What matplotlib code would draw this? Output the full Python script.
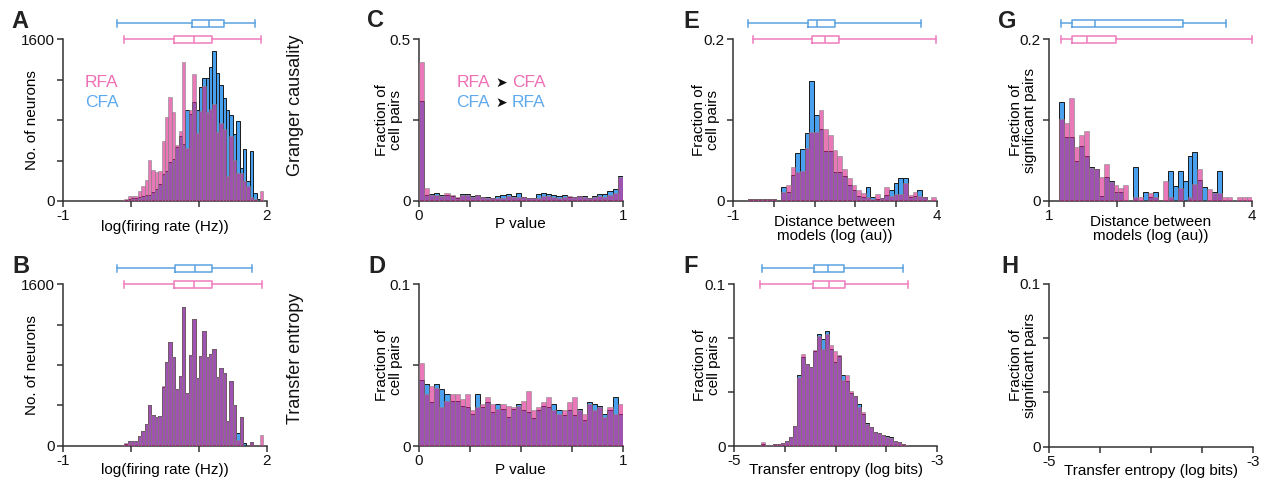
import numpy as np
import matplotlib
matplotlib.use("Agg")
import matplotlib.pyplot as plt

plt.rcParams['font.family'] = ['Liberation Sans', 'DejaVu Sans']

# ---- data ----
# A / B: firing rate histograms, bins of 0.05 starting at -0.15
fr_bin_start, fr_bin_width = -0.15, 0.05
a_rfa = [7, 23, 46, 50, 50, 99, 145, 212, 403, 304, 288, 294, 595, 833, 1025, 883, 559, 694,
         1379, 526, 899, 1256, 668, 893, 1137, 883, 906, 962, 684, 774, 717, 245, 645, 403,
         280, 281, 200, 150, 36, 20, 0, 102]
a_cfa = [5, 10, 20, 25, 30, 40, 50, 60, 60, 90, 120, 170, 270, 300, 390, 420, 530, 640, 560,
         900, 860, 980, 900, 1130, 1220, 1220, 1330, 1480, 1270, 1150, 1020, 900, 850, 660,
         790, 330, 510, 200, 490, 80, 20, 0]
b_rfa = [7, 23, 46, 50, 50, 99, 145, 212, 403, 304, 288, 294, 595, 833, 1025, 883, 559, 694,
         1379, 526, 899, 1256, 668, 893, 1137, 883, 906, 962, 684, 774, 717, 245, 645, 403,
         60, 281, 0, 0, 36, 0, 0, 102]
b_cfa = [7, 15, 46, 50, 50, 99, 145, 212, 403, 304, 288, 294, 580, 833, 1025, 883, 559, 694,
         1379, 526, 899, 1256, 668, 893, 1137, 883, 906, 962, 684, 774, 717, 245, 645, 403,
         122, 281, 30, 0, 36, 0, 0, 0]
a_box_cfa = [-0.203, 0.904, 1.154, 1.371, 1.828]
a_box_rfa = [-0.100, 0.628, 0.923, 1.194, 1.917]
b_box_cfa = [-0.203, 0.643, 0.938, 1.199, 1.789]
b_box_rfa = [-0.100, 0.628, 0.923, 1.194, 1.927]

# C / D: P value histograms, 40 bins on [0, 1]
p_bin_start, p_bin_width = 0.0, 0.025
c_rfa = [0.43, 0.041, 0.018, 0.020, 0.015, 0.025, 0.020, 0.012, 0.018, 0.018, 0.012, 0.018,
         0.012, 0.008, 0.008, 0.010, 0.010, 0.015, 0.012, 0.012, 0.012, 0.010, 0.008, 0.010,
         0.015, 0.015, 0.012, 0.010, 0.012, 0.015, 0.012, 0.015, 0.012, 0.008, 0.012, 0.015,
         0.012, 0.020, 0.025, 0.075]
c_cfa = [0.31, 0.020, 0.022, 0.025, 0.018, 0.020, 0.015, 0.010, 0.022, 0.022, 0.015, 0.020,
         0.012, 0.012, 0.010, 0.015, 0.018, 0.022, 0.015, 0.025, 0.012, 0.008, 0.010, 0.022,
         0.025, 0.022, 0.020, 0.015, 0.018, 0.012, 0.012, 0.015, 0.015, 0.010, 0.015, 0.021,
         0.021, 0.032, 0.036, 0.077]
d_rfa = [0.051, 0.032, 0.037, 0.036, 0.024, 0.028, 0.032, 0.032, 0.029, 0.032, 0.022, 0.024,
         0.026, 0.030, 0.026, 0.023, 0.026, 0.025, 0.024, 0.025, 0.028, 0.034, 0.022, 0.024,
         0.027, 0.030, 0.022, 0.020, 0.022, 0.027, 0.030, 0.022, 0.020, 0.026, 0.022, 0.024,
         0.018, 0.024, 0.020, 0.026]
d_cfa = [0.041, 0.038, 0.027, 0.038, 0.035, 0.032, 0.028, 0.028, 0.025, 0.024, 0.020, 0.032,
         0.024, 0.027, 0.021, 0.026, 0.023, 0.018, 0.023, 0.026, 0.022, 0.021, 0.017, 0.022,
         0.025, 0.024, 0.026, 0.022, 0.019, 0.022, 0.019, 0.023, 0.016, 0.027, 0.026, 0.025,
         0.020, 0.022, 0.030, 0.020]

# E: distance between models
e_bin_start, e_bin_width = -0.63, 0.1153
e_rfa = [0.002, 0.002, 0.002, 0.002, 0.002, 0.002, 0, 0.0115, 0.0198, 0.0424, 0.036, 0.037,
         0.065, 0.085, 0.085, 0.112, 0.089, 0.082, 0.063, 0.056, 0.040, 0.028, 0.020, 0.014,
         0.010, 0.005, 0.003, 0.0087, 0.004, 0.017, 0.006, 0.009, 0.009, 0.022, 0.0074, 0.011,
         0.006, 0.005, 0.001, 0.005]
e_cfa = [0.002, 0.002, 0.002, 0.002, 0.002, 0.002, 0, 0.0177, 0.0115, 0.032, 0.059, 0.064,
         0.084, 0.149, 0.106, 0.089, 0.062, 0.062, 0.036, 0.036, 0.031, 0.020, 0.014, 0.006,
         0.005, 0.017, 0.0045, 0.003, 0.004, 0.007, 0.014, 0.022, 0.029, 0.029, 0.005, 0.006,
         0.014, 0.005, 0.001, 0]
e_box_cfa = [-0.631, 0.836, 1.066, 1.500, 3.615]
e_box_rfa = [-0.525, 0.934, 1.246, 1.607, 3.984]

# F: transfer entropy
f_bin_start, f_bin_width = -4.738, 0.03934
f_rfa = [0.0025, 0.0006, 0.0008, 0.001, 0.0012, 0.0016, 0.0029, 0.0054, 0.0126, 0.0428, 0.0569,
         0.0510, 0.0486, 0.0593, 0.068, 0.060, 0.069, 0.0624, 0.059, 0.056, 0.041, 0.0437,
         0.0342, 0.031, 0.0243, 0.0212, 0.0136, 0.0115, 0.0089, 0.0082, 0.0068, 0.0054, 0.0050,
         0.0029, 0.0023, 0.0012, 0.0006]
f_cfa = [0.0012, 0.0006, 0.0008, 0.001, 0.0012, 0.0016, 0.0029, 0.0054, 0.0126, 0.0439, 0.0552,
         0.0505, 0.0486, 0.059, 0.069, 0.066, 0.0713, 0.060, 0.052, 0.0555, 0.0439, 0.040,
         0.0326, 0.031, 0.026, 0.0198, 0.0144, 0.0115, 0.0089, 0.0082, 0.0068, 0.0064, 0.0058,
         0.0029, 0.0023, 0.0012, 0.0006]
f_box_cfa = [-4.728, -4.213, -4.079, -3.915, -3.338]
f_box_rfa = [-4.741, -4.220, -4.069, -3.911, -3.285]

# G: distance between models, significant pairs
g_bin_start, g_bin_width = 1.148, 0.073
g_rfa = [0.102, 0.0968, 0.128, 0.0663, 0.0816, 0.087, 0.0404, 0.040, 0.030, 0.0457, 0.024,
         0.0198, 0.0157, 0.020, 0, 0.0045, 0.0045, 0, 0.0095, 0.0045, 0, 0.025, 0.0045, 0,
         0.0157, 0, 0.0045, 0.0206, 0.040, 0, 0.0152, 0.0095, 0.0095, 0.0045, 0.0045, 0,
         0.0045, 0.0045, 0.0045]
g_cfa = [0.1228, 0.0795, 0.0795, 0.0494, 0.068, 0.0556, 0.0424, 0.039, 0.006, 0.030, 0.025,
         0.0115, 0.0115, 0, 0, 0.0424, 0, 0.0115, 0.0045, 0.0115, 0, 0, 0.037, 0.0185, 0.037,
         0.025, 0.0556, 0.061, 0.026, 0.0177, 0, 0.0115, 0.037, 0, 0, 0, 0, 0, 0]
g_box_cfa = [1.168, 1.331, 1.676, 2.983, 3.615]
g_box_rfa = [1.168, 1.331, 1.557, 1.992, 3.995]

# ---- styling ----
W, H = 1265, 483
BLUE = '#48a0ee'
PINK = '#d91e89'
BLUE_LINE = '#5ba3e0'
PINK_LINE = '#f07cbf'
BLUE_TEXT = '#5fa9ee'
PINK_TEXT = '#ee6fb4'
AXC = '#333333'

fig = plt.figure(figsize=(W / 100, H / 100), dpi=100)


def rect(l, t, r, b):
    return [l / W, 1 - b / H, (r - l) / W, (b - t) / H]


def setup(ax, xlim, xticks, xlabels, ylim, yticks, ylabels, xlabel, ylabel, xl_y, yl_x):
    for s in ['top', 'right']:
        ax.spines[s].set_visible(False)
    for s in ['left', 'bottom']:
        ax.spines[s].set_color(AXC)
        ax.spines[s].set_linewidth(1.1)
    ax.set_xlim(xlim)
    ax.set_ylim(ylim)
    ax.set_xticks(xticks, xlabels)
    ax.set_yticks(yticks, ylabels)
    ax.tick_params(direction='out', length=4, width=1.1, color=AXC, labelsize=11,
                   pad=2, labelcolor='#111111')
    ax.set_xlabel(xlabel, fontsize=11, va='center', linespacing=1.0)
    ax.set_ylabel(ylabel, fontsize=11, va='center', linespacing=1.0)
    ax.xaxis.set_label_coords(0.5, xl_y)
    ax.yaxis.set_label_coords(yl_x, 0.5)
    ax.patch.set_visible(False)


def hist(ax, start, width, rfa, cfa):
    edges = start + width * np.arange(len(rfa))
    ax.bar(edges, cfa, width=width, align='edge', color=BLUE, edgecolor='#1a1a1a',
           linewidth=0.7, zorder=2)
    ax.bar(edges, rfa, width=width, align='edge', color=PINK, alpha=0.6,
           edgecolor='#8a8a8a', linewidth=0.7, zorder=3)


def boxes(ax, cfa_stats, rfa_stats, ytop):
    h = ytop * 7.5 / 161.5
    for stats, pos, col in [(rfa_stats, ytop, PINK_LINE),
                            (cfa_stats, ytop * (1 + 16 / 161.5), BLUE_LINE)]:
        st = dict(zip(['whislo', 'q1', 'med', 'q3', 'whishi'], stats))
        st['fliers'] = []
        props = dict(color=col, linewidth=1.1)
        art = ax.bxp([st], positions=[pos], widths=h, capwidths=h, orientation='horizontal',
                     showfliers=False, manage_ticks=False, boxprops=props,
                     whiskerprops=props, capprops=props, medianprops=props)
        for lines in art.values():
            for a in lines:
                a.set_clip_on(False)


fr_label = 'log(firing rate (Hz))'
dist_label = 'Distance between\nmodels (log (au))'
te_label = 'Transfer entropy (log bits)'
cell_label = 'Fraction of\ncell pairs'
sig_label = 'Fraction of\nsignificant pairs'

# A
ax = fig.add_axes(rect(63.3, 39.3, 266.7, 201))
hist(ax, fr_bin_start, fr_bin_width, a_rfa, a_cfa)
boxes(ax, a_box_cfa, a_box_rfa, 1600)
setup(ax, (-1, 2), [-1, 0, 1, 2], ['-1', '', '', '2'], (0, 1600),
      [0, 400, 800, 1200, 1600], ['0', '', '', '', '1600'], fr_label, 'No. of neurons',
      -0.159, -0.154)
ax.text(0.107, 0.705, 'RFA', color=PINK_TEXT, fontsize=12.5, transform=ax.transAxes,
        va='baseline')
ax.text(0.107, 0.581, 'CFA', color=BLUE_TEXT, fontsize=12.5, transform=ax.transAxes,
        va='baseline')

# B
ax = fig.add_axes(rect(63.3, 284.3, 266.7, 445.7))
hist(ax, fr_bin_start, fr_bin_width, b_rfa, b_cfa)
boxes(ax, b_box_cfa, b_box_rfa, 1600)
setup(ax, (-1, 2), [-1, 0, 1, 2], ['-1', '', '', '2'], (0, 1600),
      [0, 400, 800, 1200, 1600], ['0', '', '', '', '1600'], fr_label, 'No. of neurons',
      -0.15, -0.154)

# C
ax = fig.add_axes(rect(419, 39.3, 622.7, 201))
hist(ax, p_bin_start, p_bin_width, c_rfa, c_cfa)
setup(ax, (0, 1), [0, 0.25, 0.5, 0.75, 1], ['0', '', '', '', '1'], (0, 0.5),
      [0, 0.25, 0.5], ['0', '', '0.5'], 'P value', cell_label, -0.142, -0.145)
for yb, left, right, col in [(0.703, 'RFA', 'CFA', PINK_TEXT), (0.579, 'CFA', 'RFA', BLUE_TEXT)]:
    ax.text(0.349, yb, left, color=col, fontsize=12.5, ha='right', va='baseline',
            transform=ax.transAxes)
    ax.text(0.406, yb, '\u27a4', color='#111111', fontsize=10, ha='center', va='baseline',
            transform=ax.transAxes)
    ax.text(0.455, yb, right, color=col, fontsize=12.5, ha='left', va='baseline',
            transform=ax.transAxes)

# D
ax = fig.add_axes(rect(419, 284, 622.7, 446))
hist(ax, p_bin_start, p_bin_width, d_rfa, d_cfa)
setup(ax, (0, 1), [0, 0.25, 0.5, 0.75, 1], ['0', '', '', '', '1'], (0, 0.1),
      [0, 0.05, 0.1], ['0', '', '0.1'], 'P value', cell_label, -0.148, -0.145)

# E
ax = fig.add_axes(rect(733.3, 39.3, 936.7, 201))
hist(ax, e_bin_start, e_bin_width, e_rfa, e_cfa)
boxes(ax, e_box_cfa, e_box_rfa, 0.2)
setup(ax, (-1, 4), [-1, 0, 1, 2, 3, 4], ['-1', '', '', '', '', '4'], (0, 0.2),
      [0, 0.1, 0.2], ['0', '', '0.2'], dist_label, cell_label, -0.173, -0.132)

# F
ax = fig.add_axes(rect(734, 284.3, 937.3, 446))
hist(ax, f_bin_start, f_bin_width, f_rfa, f_cfa)
boxes(ax, f_box_cfa, f_box_rfa, 0.1)
setup(ax, (-5, -3), [-5, -4.5, -4, -3.5, -3], ['-5', '', '', '', '-3'], (0, 0.1),
      [0, 0.1 / 3, 0.2 / 3, 0.1], ['0', '', '', '0.1'], te_label, cell_label, -0.148, -0.134)

# G
ax = fig.add_axes(rect(1049.3, 39.3, 1252, 201))
hist(ax, g_bin_start, g_bin_width, g_rfa, g_cfa)
boxes(ax, g_box_cfa, g_box_rfa, 0.2)
setup(ax, (1, 4), [1, 2, 3, 4], ['1', '', '', '4'], (0, 0.2),
      [0, 0.1, 0.2], ['0', '', '0.2'], dist_label, sig_label, -0.173, -0.13)

# H (empty)
ax = fig.add_axes(rect(1049.3, 284, 1253.3, 446.7))
setup(ax, (-5, -3), [-5, -4.5, -4, -3.5, -3], ['-5', '', '', '', '-3'], (0, 0.1),
      [0, 0.1 / 3, 0.2 / 3, 0.1], ['0', '', '', '0.1'], te_label, sig_label, -0.15, -0.13)

# panel letters
for letter, x, yb in [('A', 11, 28.3), ('B', 12.7, 273.3), ('C', 367, 26.7), ('D', 368, 273),
                      ('E', 683, 28), ('F', 683, 273), ('G', 998, 28), ('H', 1001, 273)]:
    fig.text(x / W, 1 - yb / H, letter, fontsize=17, fontweight='bold', color='#222222',
             va='baseline', ha='left')

# row labels
fig.text(295 / W, 1 - 105 / H, 'Granger causality', rotation=90, ha='center', va='center',
         fontsize=13, color='#111111')
fig.text(295 / W, 1 - 358 / H, 'Transfer entropy', rotation=90, ha='center', va='center',
         fontsize=13, color='#111111')

fig.savefig('out.png', dpi=100)
